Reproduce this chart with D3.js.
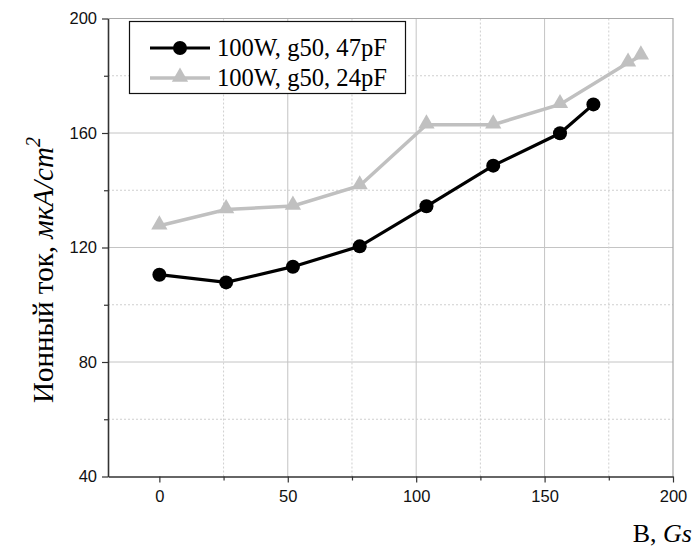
<!DOCTYPE html>
<html>
<head>
<meta charset="utf-8">
<script src="https://cdn.jsdelivr.net/npm/d3@7"></script>
<style>
  html, body { margin: 0; padding: 0; background: #fff; }
  svg { display: block; }
</style>
</head>
<body>
<div id="chart"></div>
<script>
// B, Gs
const bBlack = [0, 26, 52, 78, 104, 130, 156, 169];
const bGray = [0, 26, 52, 78, 104, 130, 156, 182.5, 187.5];
// ion current, uA/cm2
const currentBlack = [110.5, 107.8, 113.3, 120.4, 134.4, 148.6, 159.9, 170];
const currentGray = [127.6, 133.3, 134.5, 141.6, 162.9, 162.9, 170, 184.5, 187];
const seriesNames = ['100W, g50, 47pF', '100W, g50, 24pF'];
const xTicks = [0, 50, 100, 150, 200];
const yTicks = [40, 80, 120, 160, 200];
const xMinor = [25, 75, 125, 175];
const yMinor = [60, 100, 140, 180];

const width = 696;
const height = 549;
const margin = { top: 18.5, right: 23, bottom: 72.5, left: 108 };

const serif = '"Liberation Serif", "Times New Roman", serif';
const sans = '"Liberation Sans", Arial, sans-serif';

const svg = d3.select('#chart').append('svg')
    .attr('width', width)
    .attr('height', height);

const x = d3.scaleLinear()
    .domain([-20, 200])
    .range([margin.left, width - margin.right]);

const y = d3.scaleLinear()
    .domain([40, 200])
    .range([height - margin.bottom, margin.top]);

const plotTop = margin.top;
const plotBottom = height - margin.bottom;
const plotLeft = margin.left;
const plotRight = width - margin.right;

// grid
const grid = svg.append('g');
grid.selectAll('.gx').data(xTicks.filter((d) => d > 0 && d < 200)).enter()
    .append('line')
    .attr('x1', (d) => x(d)).attr('x2', (d) => x(d))
    .attr('y1', plotTop).attr('y2', plotBottom)
    .attr('stroke', '#c4c4c4').attr('stroke-width', 1);
grid.selectAll('.gy').data(yTicks.filter((d) => d > 40 && d < 200)).enter()
    .append('line')
    .attr('x1', plotLeft).attr('x2', plotRight)
    .attr('y1', (d) => y(d)).attr('y2', (d) => y(d))
    .attr('stroke', '#c4c4c4').attr('stroke-width', 1);
grid.selectAll('.mx').data(xMinor).enter()
    .append('line')
    .attr('x1', (d) => x(d)).attr('x2', (d) => x(d))
    .attr('y1', plotTop).attr('y2', plotBottom)
    .attr('stroke', '#cfcfcf').attr('stroke-width', 1)
    .attr('stroke-dasharray', '2,2');
grid.selectAll('.my').data(yMinor).enter()
    .append('line')
    .attr('x1', plotLeft).attr('x2', plotRight)
    .attr('y1', (d) => y(d)).attr('y2', (d) => y(d))
    .attr('stroke', '#cfcfcf').attr('stroke-width', 1)
    .attr('stroke-dasharray', '2,2');

// top and right frame
svg.append('path')
    .attr('d', `M${plotLeft},${plotTop}H${plotRight}V${plotBottom}`)
    .attr('fill', 'none')
    .attr('stroke', '#a8a8a8')
    .attr('stroke-width', 1.2);

// axes
const xAxis = svg.append('g')
    .attr('transform', `translate(0,${plotBottom})`)
    .call(d3.axisBottom(x).tickValues(xTicks).tickSize(6).tickPadding(8).tickSizeOuter(0));
svg.append('g')
    .attr('transform', `translate(0,${plotBottom})`)
    .call(d3.axisBottom(x).tickValues(xMinor).tickSize(4).tickFormat('').tickSizeOuter(0))
    .select('.domain').remove();
const yAxis = svg.append('g')
    .attr('transform', `translate(${plotLeft},0)`)
    .call(d3.axisLeft(y).tickValues(yTicks).tickSize(6).tickPadding(5).tickSizeOuter(0));
svg.append('g')
    .attr('transform', `translate(${plotLeft},0)`)
    .call(d3.axisLeft(y).tickValues(yMinor).tickSize(4).tickFormat('').tickSizeOuter(0))
    .select('.domain').remove();

svg.selectAll('.domain').attr('stroke', '#333').attr('stroke-width', 1.6);
svg.selectAll('.tick line').attr('stroke', '#333').attr('stroke-width', 1.2);
[xAxis, yAxis].forEach((a) => a.selectAll('text')
    .attr('font-family', sans)
    .attr('font-size', 16.5)
    .attr('fill', '#111'));

// series
const blackData = bBlack.map((b, i) => ({ b, v: currentBlack[i] }));
const grayData = bGray.map((b, i) => ({ b, v: currentGray[i] }));
const line = d3.line().x((d) => x(d.b)).y((d) => y(d.v));
const triangle = d3.symbol().type(d3.symbolTriangle).size(115);

svg.append('path').datum(grayData)
    .attr('d', line)
    .attr('fill', 'none')
    .attr('stroke', '#c0c0c0')
    .attr('stroke-width', 3.5);
svg.selectAll('.tri').data(grayData).enter()
    .append('path')
    .attr('d', triangle)
    .attr('transform', (d) => `translate(${x(d.b)},${y(d.v) - 1})`)
    .attr('fill', '#c0c0c0');

svg.append('path').datum(blackData)
    .attr('d', line)
    .attr('fill', 'none')
    .attr('stroke', '#000')
    .attr('stroke-width', 3.2);
svg.selectAll('.dot').data(blackData).enter()
    .append('circle')
    .attr('cx', (d) => x(d.b))
    .attr('cy', (d) => y(d.v))
    .attr('r', 7)
    .attr('fill', '#000');

// legend
const legend = svg.append('g');
legend.append('rect')
    .attr('x', 129.5).attr('y', 21.5)
    .attr('width', 276).attr('height', 72)
    .attr('fill', '#fff')
    .attr('stroke', '#111')
    .attr('stroke-width', 1.2);
const rows = [
    { name: seriesNames[0], color: '#000', w: 3.2, mark: 'circle' },
    { name: seriesNames[1], color: '#c0c0c0', w: 3.5, mark: 'tri' }
];
rows.forEach((r, i) => {
    const cy = 48 + i * 30;
    legend.append('line')
        .attr('x1', 150).attr('x2', 210)
        .attr('y1', cy).attr('y2', cy)
        .attr('stroke', r.color).attr('stroke-width', r.w);
    if (r.mark === 'circle') {
        legend.append('circle').attr('cx', 180).attr('cy', cy).attr('r', 7).attr('fill', r.color);
    } else {
        legend.append('path').attr('d', triangle)
            .attr('transform', `translate(180,${cy - 1})`).attr('fill', r.color);
    }
    legend.append('text')
        .attr('x', 217).attr('y', cy + 7.5)
        .attr('font-family', serif)
        .attr('font-size', 24.6)
        .attr('fill', '#000')
        .text(r.name);
});

// axis titles
const xTitle = svg.append('text')
    .attr('x', 692).attr('y', 542)
    .attr('text-anchor', 'end')
    .attr('font-family', serif)
    .attr('font-size', 26)
    .attr('fill', '#000');
xTitle.append('tspan').text('B, ');
xTitle.append('tspan').attr('font-style', 'italic').text('Gs');

const yTitle = svg.append('text')
    .attr('transform', 'translate(53,270) rotate(-90)')
    .attr('text-anchor', 'middle')
    .attr('font-family', serif)
    .attr('font-size', 29)
    .attr('fill', '#000');
yTitle.append('tspan').text('Ионный ток, ');
yTitle.append('tspan').attr('font-style', 'italic').text('мкА/cm');
yTitle.append('tspan').attr('font-style', 'italic').attr('font-size', 20).attr('dy', -13).text('2');
</script>
</body>
</html>
